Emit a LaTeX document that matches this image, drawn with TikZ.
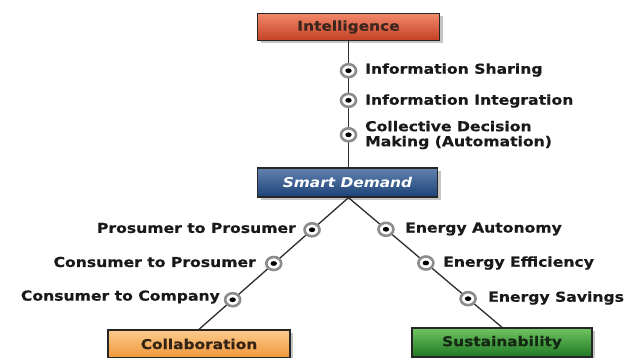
\documentclass[tikz,border=0pt]{standalone}
\usepackage{fontspec}
\newfontfamily\lblfont{DejaVu Sans}[FakeStretch=1.14, BoldFeatures={FakeBold=0.5}]
\usetikzlibrary{shadows,shapes.geometric}
\definecolor{linecol}{RGB}{45,45,45}
\definecolor{txtcol}{RGB}{25,25,25}
\tikzset{
  box/.style={rectangle, draw=black!85, line width=1.3pt, minimum width=182pt, minimum height=28pt,
    inner sep=0pt, font=\lblfont\bfseries\fontsize{13.5}{15}\selectfont,
    drop shadow={shadow xshift=3pt, shadow yshift=-3pt, opacity=0.45, fill=black!50}},
  intelbox/.style={box, top color={rgb,255:red,242;green,136;blue,106}, bottom color={rgb,255:red,196;green,64;blue,36}, text={rgb,255:red,60;green,38;blue,30}},
  smartbox/.style={box, top color={rgb,255:red,98;green,130;blue,176}, bottom color={rgb,255:red,28;green,66;blue,118}, text=white, font=\lblfont\bfseries\itshape\fontsize{13.5}{15}\selectfont},
  collabbox/.style={box, top color={rgb,255:red,252;green,204;blue,142}, bottom color={rgb,255:red,240;green,150;blue,56}, text={rgb,255:red,50;green,35;blue,20}},
  sustbox/.style={box, top color={rgb,255:red,112;green,196;blue,98}, bottom color={rgb,255:red,30;green,120;blue,36}, text={rgb,255:red,20;green,40;blue,20}},
  conn/.style={draw=linecol, line width=1.3pt},
  dot/.style={ellipse, draw=black!45, line width=2.6pt, fill=white, minimum width=15pt, minimum height=13pt, inner sep=0pt,
    path picture={\fill[black] (path picture bounding box.center) ellipse (3.2pt and 2.4pt);}},
  lbl/.style={inner sep=0pt, text=txtcol, font=\lblfont\bfseries\fontsize{13.7}{15}\selectfont, align=left},
}
\begin{document}
\begin{tikzpicture}[x=1pt,y=-1pt]
\useasboundingbox (0,0) rectangle (628,358);
\fill[white] (0,0) rectangle (628,358);

\node[intelbox, minimum height=27pt] (intel) at (348.5,27) {Intelligence};
\node[smartbox, minimum width=180pt, minimum height=29pt] (smart) at (347.5,182.5) {Smart Demand};
\node[collabbox] (collab) at (199,344) {Collaboration};
\node[sustbox, minimum width=180pt, minimum height=29pt] (sust) at (502,342.5) {Sustainability};

\path[conn] (intel.south -| 348.5,0) -- (smart.north -| 348.5,0)
  node[dot, pos=0.234] (d1) {}
  node[dot, pos=0.469] (d2) {}
  node[dot, pos=0.742] (d3) {};
\path[conn] (smart.south -| 348.5,0) -- (collab.north)
  node[dot, pos=0.244] (d4) {}
  node[dot, pos=0.500] (d5) {}
  node[dot, pos=0.775] (d6) {};
\path[conn] (smart.south -| 348.5,0) -- (sust.north)
  node[dot, pos=0.244] (d7) {}
  node[dot, pos=0.504] (d8) {}
  node[dot, pos=0.779] (d9) {};

\node[lbl, anchor=west] (l1) at (365,70) {Information Sharing};
\node[lbl, anchor=west] (l2) at (365,101) {Information Integration};
\node[lbl, anchor=west] (l3) at (365,135) {Collective Decision\\Making (Automation)};

\node[lbl, anchor=east] (l4) at (296,228) {Prosumer to Prosumer};
\node[lbl, anchor=east] (l5) at (256,262) {Consumer to Prosumer};
\node[lbl, anchor=east] (l6) at (220,297) {Consumer to Company};

\node[lbl, anchor=west] (l7) at (405,229) {Energy Autonomy};
\node[lbl, anchor=west] (l8) at (443,263) {Energy Efficiency};
\node[lbl, anchor=west] (l9) at (488,298) {Energy Savings};
\end{tikzpicture}
\end{document}
